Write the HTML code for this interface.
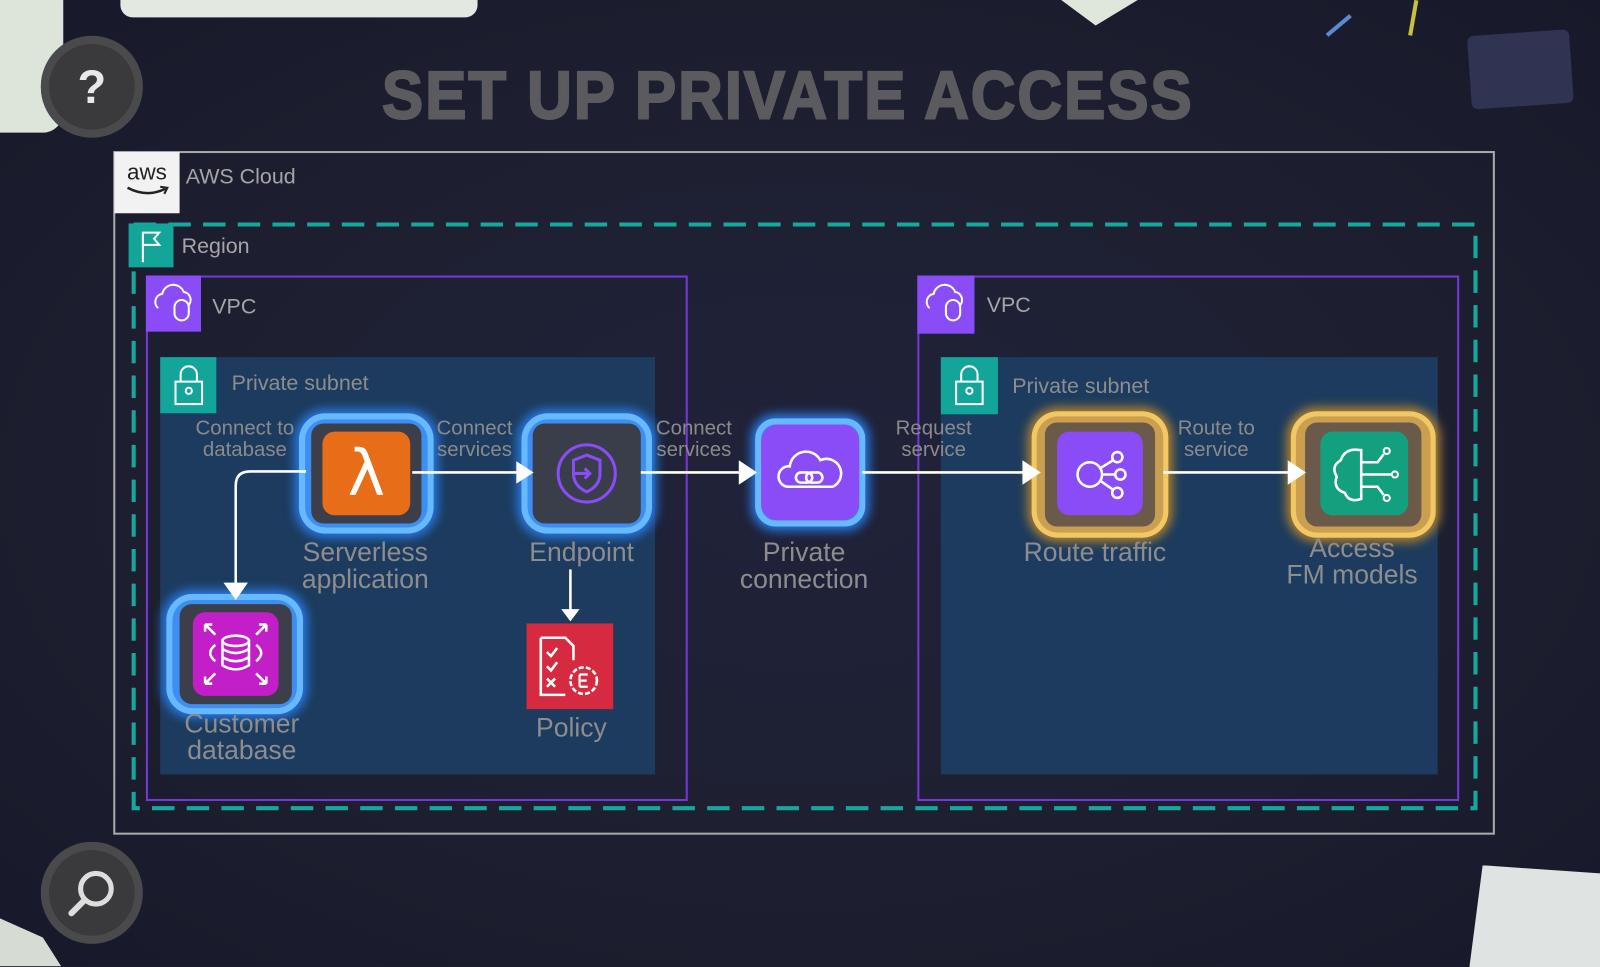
<!DOCTYPE html>
<html><head><meta charset="utf-8"><style>
html,body{margin:0;padding:0;width:1600px;height:966px;overflow:hidden;background:#1c1e2e;}
#s{position:absolute;left:0;top:0;width:1568px;height:947px;transform:scale(1.0204);transform-origin:0 0;font-family:"Liberation Sans",sans-serif;
background:radial-gradient(ellipse at 50% 50%,#20223a 0%,#1d1f30 60%,#17192a 100%);}
.a{position:absolute;}
.lbl{position:absolute;color:#8d8d8f;font-size:26px;text-align:center;line-height:26px;white-space:nowrap;}
.el{position:absolute;color:#8a8a8c;font-size:20px;text-align:center;line-height:21px;white-space:nowrap;}
.glowb{position:absolute;border-radius:26px;background:#3d8ef0;box-shadow:0 0 10px 4px #2a78e0,inset 0 0 0 6px #66b8ff;}
.glowy{position:absolute;border-radius:26px;background:#caa050;box-shadow:0 0 10px 4px #b08030,inset 0 0 0 5px #f2c864;}
.tile{position:absolute;border-radius:12px;}
</style></head><body><div id="s">
<div class="a" style="left:0;top:0;width:62px;height:130px;background:#dde4da;border-radius:0 0 20px 0;"></div>
<div class="a" style="left:118px;top:-5px;width:350px;height:22px;background:#e3e8e0;border-radius:0 0 12px 12px;"></div>
<div class="a" style="left:1040px;top:0;width:75px;height:25px;background:#dfe6dc;clip-path:polygon(0 0,100% 0,45% 100%);"></div>
<div class="a" style="left:1440px;top:32px;width:100px;height:72px;background:#2f3452;border-radius:6px;transform:rotate(-4deg);"></div>
<div class="a" style="left:1440px;top:848px;width:130px;height:100px;background:#dfe3e2;clip-path:polygon(10% 0,100% 8%,100% 100%,0 100%);"></div>
<div class="a" style="left:0;top:900px;width:60px;height:47px;background:#d6dcd4;clip-path:polygon(0 0,70% 40%,100% 100%,0 100%);"></div>
<div class="a" style="left:1310px;top:10px;width:4px;height:30px;background:#5a8ad0;transform:rotate(50deg);"></div>
<div class="a" style="left:1383px;top:0;width:4px;height:35px;background:#c8c040;transform:rotate(10deg);"></div>
<div class="a" style="left:40px;top:35px;width:100px;height:100px;border-radius:50%;background:#3a3a3d;box-shadow:inset 0 0 0 8px #4a4a4d;"></div>
<div class="a" style="left:40px;top:35px;width:100px;height:100px;line-height:100px;text-align:center;color:#e8e8e8;font-size:46px;font-weight:bold;">?</div>
<div class="a" style="left:40px;top:825px;width:100px;height:100px;border-radius:50%;background:#3a3a3d;box-shadow:inset 0 0 0 8px #4a4a4d;"></div>
<svg class="a" style="left:40px;top:825px" width="100" height="100"><circle cx="54" cy="46" r="15" fill="none" stroke="#ddd" stroke-width="5"/><line x1="43" y1="57" x2="30" y2="70" stroke="#ddd" stroke-width="6" stroke-linecap="round"/></svg>
<div class="a" style="left:172px;top:58px;width:1200px;text-align:center;color:#5b5b5f;font-size:66px;font-weight:bold;letter-spacing:2px;transform:scaleX(0.92);line-height:70px;-webkit-text-stroke:2px #5b5b5f;">SET UP PRIVATE ACCESS</div>
<div class="a" style="left:111px;top:148px;width:1350px;height:666px;border:2px solid #a9a9ab;"></div>
<div class="a" style="left:112px;top:149px;width:64px;height:60px;background:#f2f2f2;"></div>
<div class="a" style="left:112px;top:156px;width:64px;text-align:center;font-size:22px;color:#222;">aws</div>
<svg class="a" style="left:122px;top:180px" width="46" height="16"><path d="M3 4 Q22 14 40 5" stroke="#222" stroke-width="2.5" fill="none"/><path d="M35 3 L42 4 L39 10" stroke="#222" stroke-width="2" fill="none"/></svg>
<div class="a" style="left:182px;top:162px;font-size:21px;color:#a5a5a8;">AWS Cloud</div>
<svg class="a" style="left:0;top:0" width="1568" height="947">
<rect x="131" y="220" width="1315" height="572" fill="none" stroke="#17a79d" stroke-width="4" stroke-dasharray="22 12"/>
</svg>
<div class="a" style="left:126px;top:219px;width:44px;height:43px;background:#13a49a;"></div>
<svg class="a" style="left:126px;top:219px" width="44" height="43"><path d="M14 8 V38 M14 9 H30 L25 15 L30 21 H14" stroke="#fff" stroke-width="2" fill="none"/></svg>
<div class="a" style="left:178px;top:230px;font-size:21px;color:#a5a5a8;">Region</div>
<div class="a" style="left:143px;top:270px;width:527px;height:511px;border:2px solid #7438d8;"></div>
<div class="a" style="left:899px;top:270px;width:527px;height:511px;border:2px solid #7438d8;"></div>
<div class="a" style="left:143px;top:270px;width:54px;height:55px;background:#8a4cf6;"></div>
<div class="a" style="left:899px;top:270px;width:56px;height:57px;background:#8a4cf6;"></div>
<svg class="a" style="left:143px;top:270px" width="56" height="56"><path d="M12 32 a8 8 0 0 1 4-14 a11 11 0 0 1 21-2 a8 8 0 0 1 4 14" stroke="#fff" stroke-width="2" fill="none"/><rect x="28" y="24" width="14" height="20" rx="7" stroke="#fff" stroke-width="2" fill="none"/></svg>
<svg class="a" style="left:899px;top:270px" width="56" height="56"><path d="M12 32 a8 8 0 0 1 4-14 a11 11 0 0 1 21-2 a8 8 0 0 1 4 14" stroke="#fff" stroke-width="2" fill="none"/><rect x="28" y="24" width="14" height="20" rx="7" stroke="#fff" stroke-width="2" fill="none"/></svg>
<div class="a" style="left:208px;top:289px;font-size:21px;color:#a5a5a8;">VPC</div>
<div class="a" style="left:967px;top:288px;font-size:21px;color:#a5a5a8;">VPC</div>
<div class="a" style="left:157px;top:350px;width:485px;height:409px;background:#1c3b5e;"></div>
<div class="a" style="left:922px;top:350px;width:487px;height:409px;background:#1c3b5e;"></div>
<div class="a" style="left:157px;top:350px;width:55px;height:55px;background:#13a49a;"></div>
<div class="a" style="left:922px;top:350px;width:56px;height:56px;background:#13a49a;"></div>
<svg class="a" style="left:157px;top:350px" width="56" height="56"><rect x="15" y="24" width="26" height="22" stroke="#fff" stroke-width="2" fill="none"/><path d="M20 24 V17 a8 8 0 0 1 16 0 V24" stroke="#fff" stroke-width="2" fill="none"/><circle cx="28" cy="33" r="3" stroke="#fff" fill="none" stroke-width="2"/></svg>
<svg class="a" style="left:922px;top:350px" width="56" height="56"><rect x="15" y="24" width="26" height="22" stroke="#fff" stroke-width="2" fill="none"/><path d="M20 24 V17 a8 8 0 0 1 16 0 V24" stroke="#fff" stroke-width="2" fill="none"/><circle cx="28" cy="33" r="3" stroke="#fff" fill="none" stroke-width="2"/></svg>
<div class="a" style="left:227px;top:364px;font-size:21px;color:#8d8d90;">Private subnet</div>
<div class="a" style="left:992px;top:367px;font-size:21px;color:#8d8d90;">Private subnet</div>
<div class="glowb" style="left:293px;top:405px;width:132px;height:118px;"></div>
<div class="tile" style="left:305px;top:415px;width:108px;height:98px;background:#3c3f4a;"></div>
<div class="tile" style="left:316px;top:423px;width:86px;height:82px;background:#e76d19;"></div>
<div class="a" style="left:316px;top:423px;width:86px;line-height:82px;text-align:center;color:#fff;font-size:62px;font-family:'DejaVu Sans',sans-serif;">λ</div>
<div class="glowb" style="left:511px;top:405px;width:128px;height:118px;"></div>
<div class="tile" style="left:522px;top:415px;width:106px;height:98px;background:#3a3d4a;"></div>
<svg class="a" style="left:530px;top:420px" width="90" height="88"><circle cx="45" cy="44" r="28" stroke="#8a4cf6" stroke-width="3" fill="none"/><path d="M45 26 L58 31 V44 Q58 56 45 62 Q32 56 32 44 V31Z" stroke="#8a4cf6" stroke-width="3" fill="none"/><path d="M32 44 H48 M43 39 L48 44 L43 49" stroke="#8a4cf6" stroke-width="3" fill="none"/></svg>
<div class="glowb" style="left:740px;top:410px;width:108px;height:106px;border-radius:20px;"></div>
<div class="tile" style="left:746px;top:416px;width:96px;height:94px;background:#8a4cf6;border-radius:16px;"></div>
<svg class="a" style="left:752px;top:425px" width="84" height="76"><path d="M20 52 a10 10 0 0 1 2-20 a16 16 0 0 1 30-6 a12 12 0 0 1 12 26Z" stroke="#fff" stroke-width="2.5" fill="none"/><rect x="28" y="38" width="16" height="10" rx="5" stroke="#fff" stroke-width="2.5" fill="none"/><rect x="38" y="38" width="16" height="10" rx="5" stroke="#fff" stroke-width="2.5" fill="none"/></svg>
<div class="glowy" style="left:1011px;top:403px;width:134px;height:124px;"></div>
<div class="tile" style="left:1024px;top:414px;width:108px;height:102px;background:#6b5a4a;"></div>
<div class="tile" style="left:1036px;top:423px;width:84px;height:82px;background:#8a4cf6;"></div>
<svg class="a" style="left:1036px;top:423px" width="84" height="82"><circle cx="32" cy="42" r="12" stroke="#fff" stroke-width="2.5" fill="none"/><circle cx="59" cy="25" r="5" stroke="#fff" stroke-width="2.5" fill="none"/><circle cx="62" cy="42" r="5" stroke="#fff" stroke-width="2.5" fill="none"/><circle cx="59" cy="60" r="5" stroke="#fff" stroke-width="2.5" fill="none"/><path d="M44 42 H57 M42 36 L55 28 M42 48 L55 57" stroke="#fff" stroke-width="2.5"/></svg>
<div class="glowy" style="left:1265px;top:403px;width:142px;height:124px;"></div>
<div class="tile" style="left:1279px;top:414px;width:114px;height:102px;background:#6b5a4a;"></div>
<div class="tile" style="left:1294px;top:423px;width:86px;height:82px;background:#13a07e;"></div>
<svg class="a" style="left:1294px;top:423px" width="86" height="82"><path d="M38 18 Q24 16 20 28 Q10 34 16 44 Q12 56 24 60 Q28 70 40 66 V18Z" stroke="#fff" stroke-width="2.5" fill="none"/><path d="M40 30 H56 L62 22 M40 42 H70 M40 54 H56 L62 62" stroke="#fff" stroke-width="2.5" fill="none"/><circle cx="65" cy="19" r="3" stroke="#fff" stroke-width="2" fill="none"/><circle cx="73" cy="42" r="3" stroke="#fff" stroke-width="2" fill="none"/><circle cx="65" cy="65" r="3" stroke="#fff" stroke-width="2" fill="none"/></svg>
<div class="glowb" style="left:163px;top:582px;width:134px;height:118px;"></div>
<div class="tile" style="left:176px;top:592px;width:110px;height:98px;background:#3c3f4a;"></div>
<div class="tile" style="left:189px;top:600px;width:84px;height:82px;background:#c21fc9;"></div>
<svg class="a" style="left:189px;top:600px" width="84" height="82"><ellipse cx="42" cy="28" rx="13" ry="5" stroke="#fff" stroke-width="2.5" fill="none"/><path d="M29 28 V52 Q42 60 55 52 V28 M29 36 Q42 44 55 36 M29 44 Q42 52 55 44" stroke="#fff" stroke-width="2.5" fill="none"/><path d="M22 32 Q12 40 22 48 M62 32 Q72 40 62 48 M12 12 L22 22 M12 12 H19 M12 12 V19 M72 12 L62 22 M72 12 H65 M72 12 V19 M12 70 L22 60 M12 70 H19 M12 70 V63 M72 70 L62 60 M72 70 H65 M72 70 V63" stroke="#fff" stroke-width="2.5" fill="none"/></svg>
<div class="a" style="left:516px;top:611px;width:85px;height:84px;background:#d62a40;"></div>
<svg class="a" style="left:516px;top:611px" width="85" height="84"><path d="M14 14 H38 L46 22 V36 M14 14 V70 H38" stroke="#fff" stroke-width="2.5" fill="none"/><path d="M20 28 L24 32 L30 24 M20 42 L24 46 L30 38 M20 54 L28 62 M28 54 L20 62" stroke="#fff" stroke-width="2.5" fill="none"/><circle cx="56" cy="56" r="13" stroke="#fff" stroke-width="2.5" fill="none" stroke-dasharray="5 2"/><path d="M52 50 V62 M52 50 H60 M52 56 H59 M52 62 H60" stroke="#fff" stroke-width="2.2"/></svg>
<svg class="a" style="left:0;top:0" width="1568" height="947">
<g stroke="#fff" stroke-width="2.5" fill="none">
<line x1="404" y1="463" x2="508" y2="463"/>
<line x1="628" y1="463" x2="726" y2="463"/>
<line x1="845" y1="463" x2="1005" y2="463"/>
<line x1="1140" y1="463" x2="1265" y2="463"/>
<path d="M300 462 H245 Q231 462 231 476 V575"/>
<line x1="559" y1="558" x2="559" y2="598"/>
</g>
<g fill="#fff">
<path d="M506 452 L523 463 L506 474Z"/>
<path d="M724 451 L742 463 L724 475Z"/>
<path d="M1002 451 L1020 463 L1002 475Z"/>
<path d="M1262 451 L1280 463 L1262 475Z"/>
<path d="M219 571 L231 588 L243 571Z"/>
<path d="M550 597 L559 609 L568 597Z"/>
</g>
</svg>
<div class="lbl" style="left:258px;top:528px;width:200px;">Serverless<br>application</div>
<div class="lbl" style="left:470px;top:528px;width:200px;">Endpoint</div>
<div class="lbl" style="left:688px;top:528px;width:200px;">Private<br>connection</div>
<div class="lbl" style="left:973px;top:528px;width:200px;">Route traffic</div>
<div class="lbl" style="left:1225px;top:524px;width:200px;">Access<br>FM models</div>
<div class="lbl" style="left:137px;top:696px;width:200px;">Customer<br>database</div>
<div class="lbl" style="left:460px;top:700px;width:200px;">Policy</div>
<div class="el" style="left:170px;top:410px;width:140px;">Connect to<br>database</div>
<div class="el" style="left:395px;top:410px;width:140px;">Connect<br>services</div>
<div class="el" style="left:610px;top:410px;width:140px;">Connect<br>services</div>
<div class="el" style="left:845px;top:410px;width:140px;">Request<br>service</div>
<div class="el" style="left:1122px;top:410px;width:140px;">Route to<br>service</div>
</div></body></html>
